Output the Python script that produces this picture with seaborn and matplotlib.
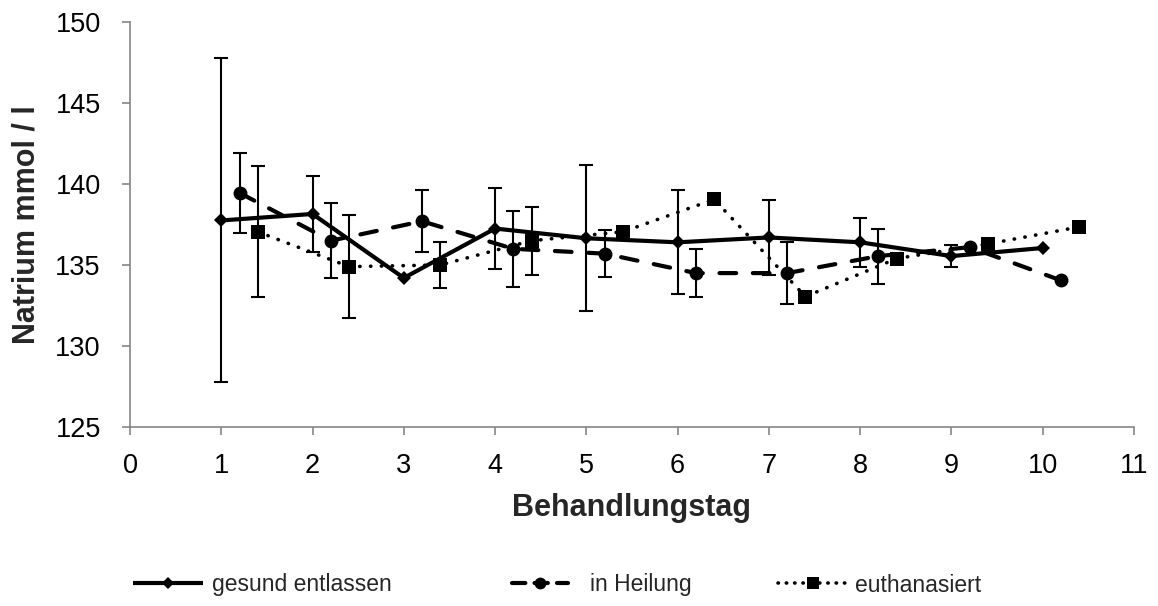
import numpy as np
import pandas as pd
import matplotlib
matplotlib.use("Agg")
import matplotlib.pyplot as plt
from matplotlib.lines import Line2D
import seaborn as sns

# Data
days = [1, 2, 3, 4, 5, 6, 7, 8, 9, 10]
gesund = [137.75, 138.15, 134.2, 137.25, 136.65, 136.4, 136.7, 136.4, 135.55, 136.05]
gesund_err = [10.0, 2.35, 0.0, 2.5, 4.5, 3.2, 2.3, 1.5, 0.7, 0.0]
heilung = [139.45, 136.5, 137.7, 136.0, 135.7, 134.5, 134.5, 135.55, 136.1, 134.05]
heilung_err = [2.45, 2.3, 1.9, 2.35, 1.45, 1.5, 1.9, 1.7, 0.0, 0.0]
euth = [137.05, 134.9, 135.0, 136.5, 137.05, 139.05, 133.05, 135.4, 136.3, 137.35]
euth_err = [4.05, 3.2, 1.4, 2.1, 0.0, 0.0, 0.0, 0.0, 0.0, 0.0]
offsets = [0.0, 0.2, 0.4]
labels = ["gesund entlassen", "in Heilung", "euthanasiert"]
xticks = list(range(0, 12))
yticks = [125, 130, 135, 140, 145, 150]

sns.set_theme(style="white")
plt.rcParams["font.family"] = ["Liberation Sans", "DejaVu Sans"]

leg_size = 16.5

W, H = 1158, 606
fig = plt.figure(figsize=(W / 100, H / 100), dpi=100)
ax = fig.add_axes([130 / W, 1 - 427 / H, (1134 - 130) / W, (427 - 22) / H])

styles = [
    dict(marker="D", ms=7, ls="-", lw=3.0, lms=6.0, lls="-", hl=70),
    dict(marker="o", ms=10, ls=(0, (4, 4)), lw=3.0, lms=8.5, lls=(0, (3.2, 2.2)), hl=56),
    dict(marker="s", ms=10, ls=(0, (0.1, 2.9)), lw=2.6, lms=9, lls=(0, (0.1, 2.2)), hl=70),
]
series = [(gesund, gesund_err), (heilung, heilung_err), (euth, euth_err)]

handles = []
for (vals, errs), off, lab, st in zip(series, offsets, labels, styles):
    xs = [d + off for d in days]
    df = pd.DataFrame({"x": xs, "y": vals})
    sns.lineplot(data=df, x="x", y="y", ax=ax, color="black", lw=st["lw"],
                 linestyle=st["ls"], marker=st["marker"], markersize=st["ms"],
                 markeredgewidth=0, dash_capstyle="round", solid_capstyle="butt",
                 legend=False)
    xe = [x for x, e in zip(xs, errs) if e > 0]
    ye = [y for y, e in zip(vals, errs) if e > 0]
    ee = [e for e in errs if e > 0]
    ax.errorbar(xe, ye, yerr=ee, fmt="none", ecolor="black", elinewidth=1.5,
                capsize=4.7, capthick=1.5, zorder=3)
    h = Line2D([], [], color="black", lw=st["lw"], linestyle=st["lls"],
               marker=st["marker"], markersize=st["lms"], markeredgewidth=0,
               dash_capstyle="round", solid_capstyle="butt")
    handles.append(h)

ax.set_xlim(0, 11)
ax.set_ylim(125, 150)
ax.set_xticks(xticks)
ax.set_yticks(yticks)
ax.tick_params(axis="both", labelsize=19.5, colors="#868686", labelcolor="black",
               length=6, width=1.2, direction="out", bottom=True, left=True)
ax.tick_params(axis="y", pad=15)
ax.tick_params(axis="x", pad=13)
for s in ["top", "right"]:
    ax.spines[s].set_visible(False)
for s in ["left", "bottom"]:
    ax.spines[s].set_color("#868686")
    ax.spines[s].set_linewidth(1.2)
ax.set_xlabel("Behandlungstag", fontsize=22, fontweight="bold")
ax.set_ylabel("Natrium mmol / l", fontsize=22, fontweight="bold")
ax.yaxis.set_label_coords((42 - 130) / 1004, 0.5)
ax.xaxis.set_label_coords(0.5, -(493 - 427) / 405)

leg_px = leg_size * 100 / 72
leg_x = [133, 512, 778]
text_gap = [9, 22, 7]
for h, lab, st, lx, tg in zip(handles, labels, styles, leg_x, text_gap):
    fig.legend([h], [lab], loc="center left", bbox_to_anchor=(lx / W, 1 - 585 / H),
               frameon=False, prop={"size": leg_size},
               handlelength=st["hl"] / leg_px, handletextpad=tg / leg_px,
               borderpad=0, borderaxespad=0)

fig.savefig("out.png", dpi=100)
